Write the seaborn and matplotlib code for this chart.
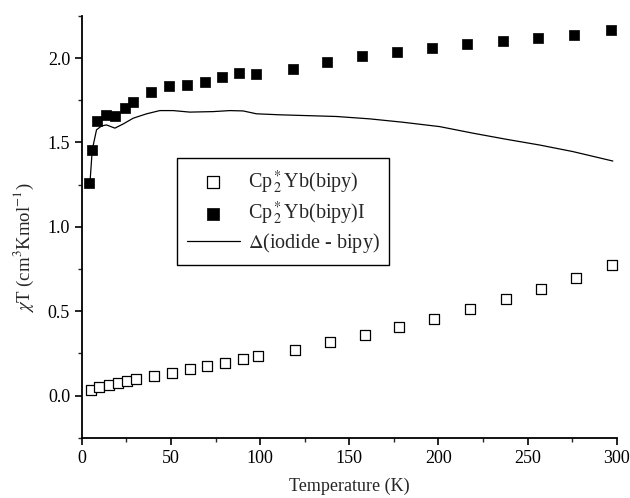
import matplotlib
matplotlib.use("Agg")
import matplotlib.pyplot as plt
import seaborn as sns
import pandas as pd
from matplotlib.ticker import MultipleLocator

# Data
T_bipy = [5, 9.5, 15.1, 20.4, 25.2, 30.3, 40.2, 50.3, 60.4, 70.2, 80.2, 90.1, 99,
          119.6, 139, 158.8, 177.9, 197.5, 217.7, 238, 257.7, 277.1, 297.3]
chiT_bipy = [0.034, 0.049, 0.061, 0.073, 0.085, 0.097, 0.117, 0.135, 0.156, 0.176,
             0.194, 0.216, 0.234, 0.273, 0.315, 0.358, 0.406, 0.453, 0.511, 0.572,
             0.634, 0.699, 0.776]

T_iod = [3.9, 5.8, 8.6, 13.6, 18.7, 23.9, 28.8, 38.7, 48.8, 58.9, 68.8, 78.6, 88.2,
         97.7, 118.5, 137.7, 157, 176.6, 196.2, 216.2, 236.2, 256, 276, 297]
chiT_iod = [1.26, 1.456, 1.626, 1.664, 1.656, 1.705, 1.741, 1.799, 1.832, 1.838,
            1.86, 1.886, 1.911, 1.903, 1.937, 1.977, 2.01, 2.036, 2.06, 2.083,
            2.101, 2.119, 2.137, 2.169]

T_diff = [4.5, 5.8, 8.2, 11, 13.8, 18.5, 23.2, 28.8, 36.3, 43.7, 51.2, 60.5, 73.6,
          83, 90.4, 97.9, 111, 142.8, 161.4, 180, 200.7, 219.4, 238, 256.7, 275.4, 297.8]
chiT_diff = [1.257, 1.456, 1.575, 1.598, 1.604, 1.585, 1.61, 1.644, 1.67, 1.689,
             1.689, 1.68, 1.683, 1.689, 1.687, 1.67, 1.664, 1.654, 1.64, 1.62,
             1.594, 1.555, 1.519, 1.485, 1.446, 1.39]

labels = [r'Cp$^*_{\,2}$Yb(bipy)', r'Cp$^*_{\,2}$Yb(bipy)I', r'$\Delta$(iodide - bipy)']

sns.set_style("ticks")
plt.rcParams['font.family'] = ['Liberation Serif', 'DejaVu Serif']
plt.rcParams['mathtext.fontset'] = 'stix'
plt.rcParams['font.size'] = 13

df_b = pd.DataFrame({'T': T_bipy, 'chiT': chiT_bipy})
df_i = pd.DataFrame({'T': T_iod, 'chiT': chiT_iod})
df_d = pd.DataFrame({'T': T_diff, 'chiT': chiT_diff})

fig = plt.figure(figsize=(6.3, 4.98), dpi=100)
ax = fig.add_axes([0.130, 0.121, 0.849, 0.847])

sns.scatterplot(data=df_b, x='T', y='chiT', ax=ax, marker='s', s=42,
                facecolor='white', edgecolor='black', linewidth=0.9,
                label=labels[0], zorder=3, clip_on=False)
sns.scatterplot(data=df_i, x='T', y='chiT', ax=ax, marker='s', s=42,
                color='black', edgecolor='black', linewidth=0.5,
                label=labels[1], zorder=3, clip_on=False)
sns.lineplot(data=df_d, x='T', y='chiT', ax=ax, color='black', linewidth=0.9,
             label=labels[2], zorder=2)

ax.set_xlim(0, 300)
ax.set_ylim(-0.25, 2.25)
ax.xaxis.set_major_locator(MultipleLocator(50))
ax.xaxis.set_minor_locator(MultipleLocator(25))
ax.yaxis.set_major_locator(MultipleLocator(0.5))
ax.yaxis.set_minor_locator(MultipleLocator(0.25))
ax.yaxis.set_major_formatter(matplotlib.ticker.FormatStrFormatter('%.1f'))
ax.tick_params(which='major', direction='out', length=5, width=1.2, labelsize=13, colors='black')
ax.tick_params(which='minor', direction='out', length=3, width=1.0)
for s in ['top', 'right']:
    ax.spines[s].set_visible(False)
for s in ['left', 'bottom']:
    ax.spines[s].set_linewidth(1.3)
    ax.spines[s].set_color('black')

ax.set_xlabel('Temperature (K)', fontsize=13, labelpad=8)
ax.set_ylabel(r'$\chi$T (cm$^3$Kmol$^{-1}$)', fontsize=13.5)
ax.yaxis.set_label_coords(-0.085, 0.45)

leg = ax.legend(loc='upper left', bbox_to_anchor=(0.178, 0.663), borderaxespad=0,
                fontsize=14.5, frameon=True, fancybox=False, edgecolor='black',
                framealpha=1, handlelength=2.6, handletextpad=0.4, borderpad=0.5,
                labelspacing=0.2, markerscale=1.3)
leg.get_frame().set_linewidth(1.0)

fig.savefig('out.png', dpi=100)
